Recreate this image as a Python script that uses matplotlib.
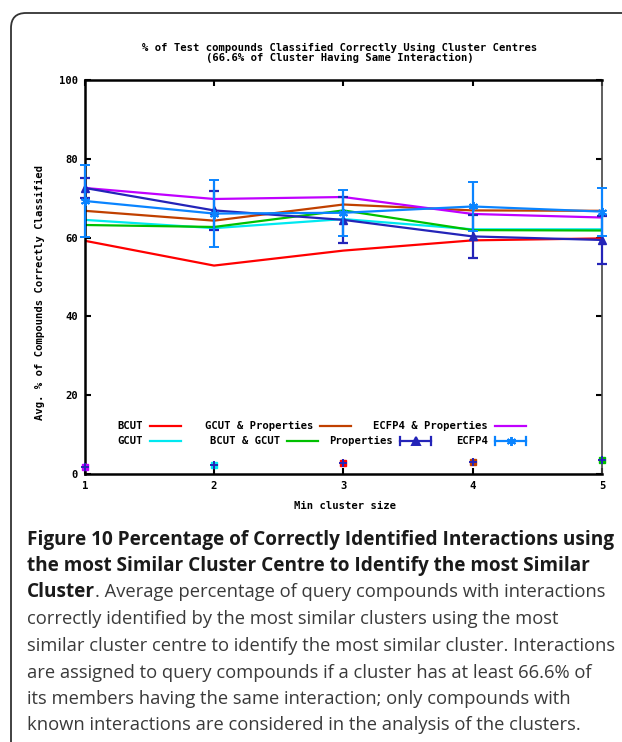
import matplotlib
matplotlib.use("Agg")
import matplotlib.pyplot as plt
from matplotlib.patches import FancyBboxPatch
from matplotlib.lines import Line2D
from matplotlib.transforms import IdentityTransform

# ---------------- data ----------------
cluster_sizes = [1, 2, 3, 4, 5]
bcut = [59.2, 52.9, 56.7, 59.3, 59.8]
gcut = [64.5, 62.4, 64.7, 62.1, 62.1]
bcut_gcut = [63.2, 62.7, 66.9, 61.9, 61.8]
gcut_props = [66.8, 64.3, 68.4, 66.9, 66.8]
ecfp4_props = [72.6, 69.8, 70.3, 66.0, 65.1]
props = [72.6, 66.9, 64.5, 60.3, 59.4]
props_err = [2.5, 5.0, 5.9, 5.4, 6.0]
ecfp4 = [69.3, 66.1, 66.3, 67.9, 66.6]
ecfp4_err = [9.2, 8.6, 5.8, 6.1, 6.1]
low_vals = [1.9, 2.3, 2.7, 3.1, 3.6]
low_colors = ["#C000FF", "#00E8F0", "#FF0000", "#C04000", "#00C000"]

title = "% of Test compounds Classified Correctly Using Cluster Centres\n(66.6% of Cluster Having Same Interaction)"
xlabel = "Min cluster size"
ylabel = "Avg. % of Compounds Correctly Classified"
yticks = [0, 20, 40, 60, 80, 100]

c_red, c_cyan, c_green = "#FF0000", "#00E8F0", "#00C000"
c_brown, c_purple = "#C04000", "#C000FF"
c_dblue, c_lblue = "#2424B8", "#0A84FF"

W, H = 622, 742
fig = plt.figure(figsize=(W / 100, H / 100), dpi=100)
mono = dict(family="DejaVu Sans Mono", fontweight="bold", fontsize=7.6)

ax = fig.add_axes([84.7 / W, 1 - 474 / H, (602 - 84.7) / W, (474 - 80) / H])
ax.set_xlim(1, 5)
ax.set_ylim(0, 100)

lw = 1.6
ax.plot(cluster_sizes, bcut, color=c_red, lw=lw)
ax.plot(cluster_sizes, gcut, color=c_cyan, lw=lw)
ax.plot(cluster_sizes, bcut_gcut, color=c_green, lw=lw)
ax.plot(cluster_sizes, gcut_props, color=c_brown, lw=lw)
ax.plot(cluster_sizes, ecfp4_props, color=c_purple, lw=lw)
ax.errorbar(cluster_sizes, props, yerr=props_err, color=c_dblue, lw=lw,
            elinewidth=lw, capsize=3.5, capthick=lw, marker="^", ms=5.5,
            clip_on=False, zorder=4)
ax.errorbar(cluster_sizes, ecfp4, yerr=ecfp4_err, color=c_lblue, lw=lw,
            elinewidth=lw, capsize=3.5, capthick=lw, marker=(6, 2, 0), ms=6.5,
            mew=1.4, clip_on=False, zorder=5)
for xv, yv, cc in zip(cluster_sizes, low_vals, low_colors):
    ax.plot([xv], [yv], marker="s", ms=4, color=cc, clip_on=False, zorder=6)
    ax.plot([xv], [yv], marker="+", ms=6, mew=1.4, color=c_dblue, clip_on=False, zorder=7)

ax.set_xticks(cluster_sizes)
ax.set_yticks(yticks)
ax.set_xticklabels([str(v) for v in cluster_sizes], **mono)
ax.set_yticklabels([str(v) for v in yticks], **mono)
ax.tick_params(direction="in", length=4, width=1.5, top=True, right=True, pad=5,
               colors="black")
for s in ["left", "bottom", "top"]:
    ax.spines[s].set_linewidth(1.8)
ax.spines["right"].set_linewidth(1.2)
ax.spines["right"].set_color("#444444")

fig.text(340 / W, 1 - 53 / H, title, ha="center", va="center", linespacing=1.1, **mono)
fig.text(345 / W, 1 - 506 / H, xlabel, ha="center", va="center", **mono)
fig.text(40 / W, 1 - 292 / H, ylabel, ha="center", va="center", rotation=90, **mono)

# legend (gnuplot style: label then sample)
tr = IdentityTransform()
def px(x, y):
    return x / W, 1 - y / H
legend_items = [
    ("BCUT", 143, 150, 426, c_red, None),
    ("GCUT & Properties", 313, 320, 426, c_brown, None),
    ("ECFP4 & Properties", 488, 495, 426, c_purple, None),
    ("GCUT", 143, 150, 441, c_cyan, None),
    ("BCUT & GCUT", 280, 287, 441, c_green, None),
    ("Properties", 393, 400, 441, c_dblue, "^"),
    ("ECFP4", 488, 495, 441, c_lblue, (6, 2, 0)),
]
for label, tx, lx, ly, col, mk in legend_items:
    fig.text(*px(tx, ly), label, ha="right", va="center", **mono)
    x0, y0 = px(lx, ly)
    x1, _ = px(lx + 31, ly)
    fig.add_artist(Line2D([x0, x1], [y0, y0], color=col, lw=lw, transform=fig.transFigure))
    if mk is not None:
        xm = (x0 + x1) / 2
        fig.add_artist(Line2D([xm], [y0], marker=mk, ms=6.5 if mk != "^" else 5.5, mew=1.4,
                              color=col, transform=fig.transFigure))
        for xe in (x0, x1):
            fig.add_artist(Line2D([xe, xe], [y0 - 4 / H, y0 + 4 / H], color=col, lw=lw,
                                  transform=fig.transFigure))

# frame
frame = FancyBboxPatch((11, -40), 800, 729 + 40, boxstyle="round,pad=0,rounding_size=15",
                       fill=False, edgecolor="#333333", lw=1.3, transform=tr)
fig.add_artist(frame)

# caption
cap_bold_fs = 13.65
cap_fs = 13.28
cap_font = "Open Sans"
line_y = [540, 566, 592, 619, 646, 673, 699, 725]
bold_lines = ["Figure 10 Percentage of Correctly Identified Interactions using",
              "the most Similar Cluster Centre to Identify the most Similar"]
for t, y in zip(bold_lines, line_y[:2]):
    fig.text(27 / W, 1 - y / H, t, ha="left", va="center", family=cap_font,
             fontweight="bold", fontsize=cap_bold_fs, color="#1a1a1a")
bt = fig.text(27 / W, 1 - line_y[2] / H, "Cluster", ha="left", va="center",
              family=cap_font, fontweight="bold", fontsize=cap_bold_fs, color="#1a1a1a")
fig.canvas.draw()
bb = bt.get_window_extent()
fig.text(bb.x1 / W, 1 - line_y[2] / H, ". Average percentage of query compounds with interactions",
         ha="left", va="center", family=cap_font, fontsize=cap_fs, color="#3a3a3a")
rest = ["correctly identified by the most similar clusters using the most",
        "similar cluster centre to identify the most similar cluster. Interactions",
        "are assigned to query compounds if a cluster has at least 66.6% of",
        "its members having the same interaction; only compounds with",
        "known interactions are considered in the analysis of the clusters."]
for t, y in zip(rest, line_y[3:]):
    fig.text(27 / W, 1 - y / H, t, ha="left", va="center", family=cap_font,
             fontsize=cap_fs, color="#3a3a3a")

fig.savefig("out.png", dpi=100)
